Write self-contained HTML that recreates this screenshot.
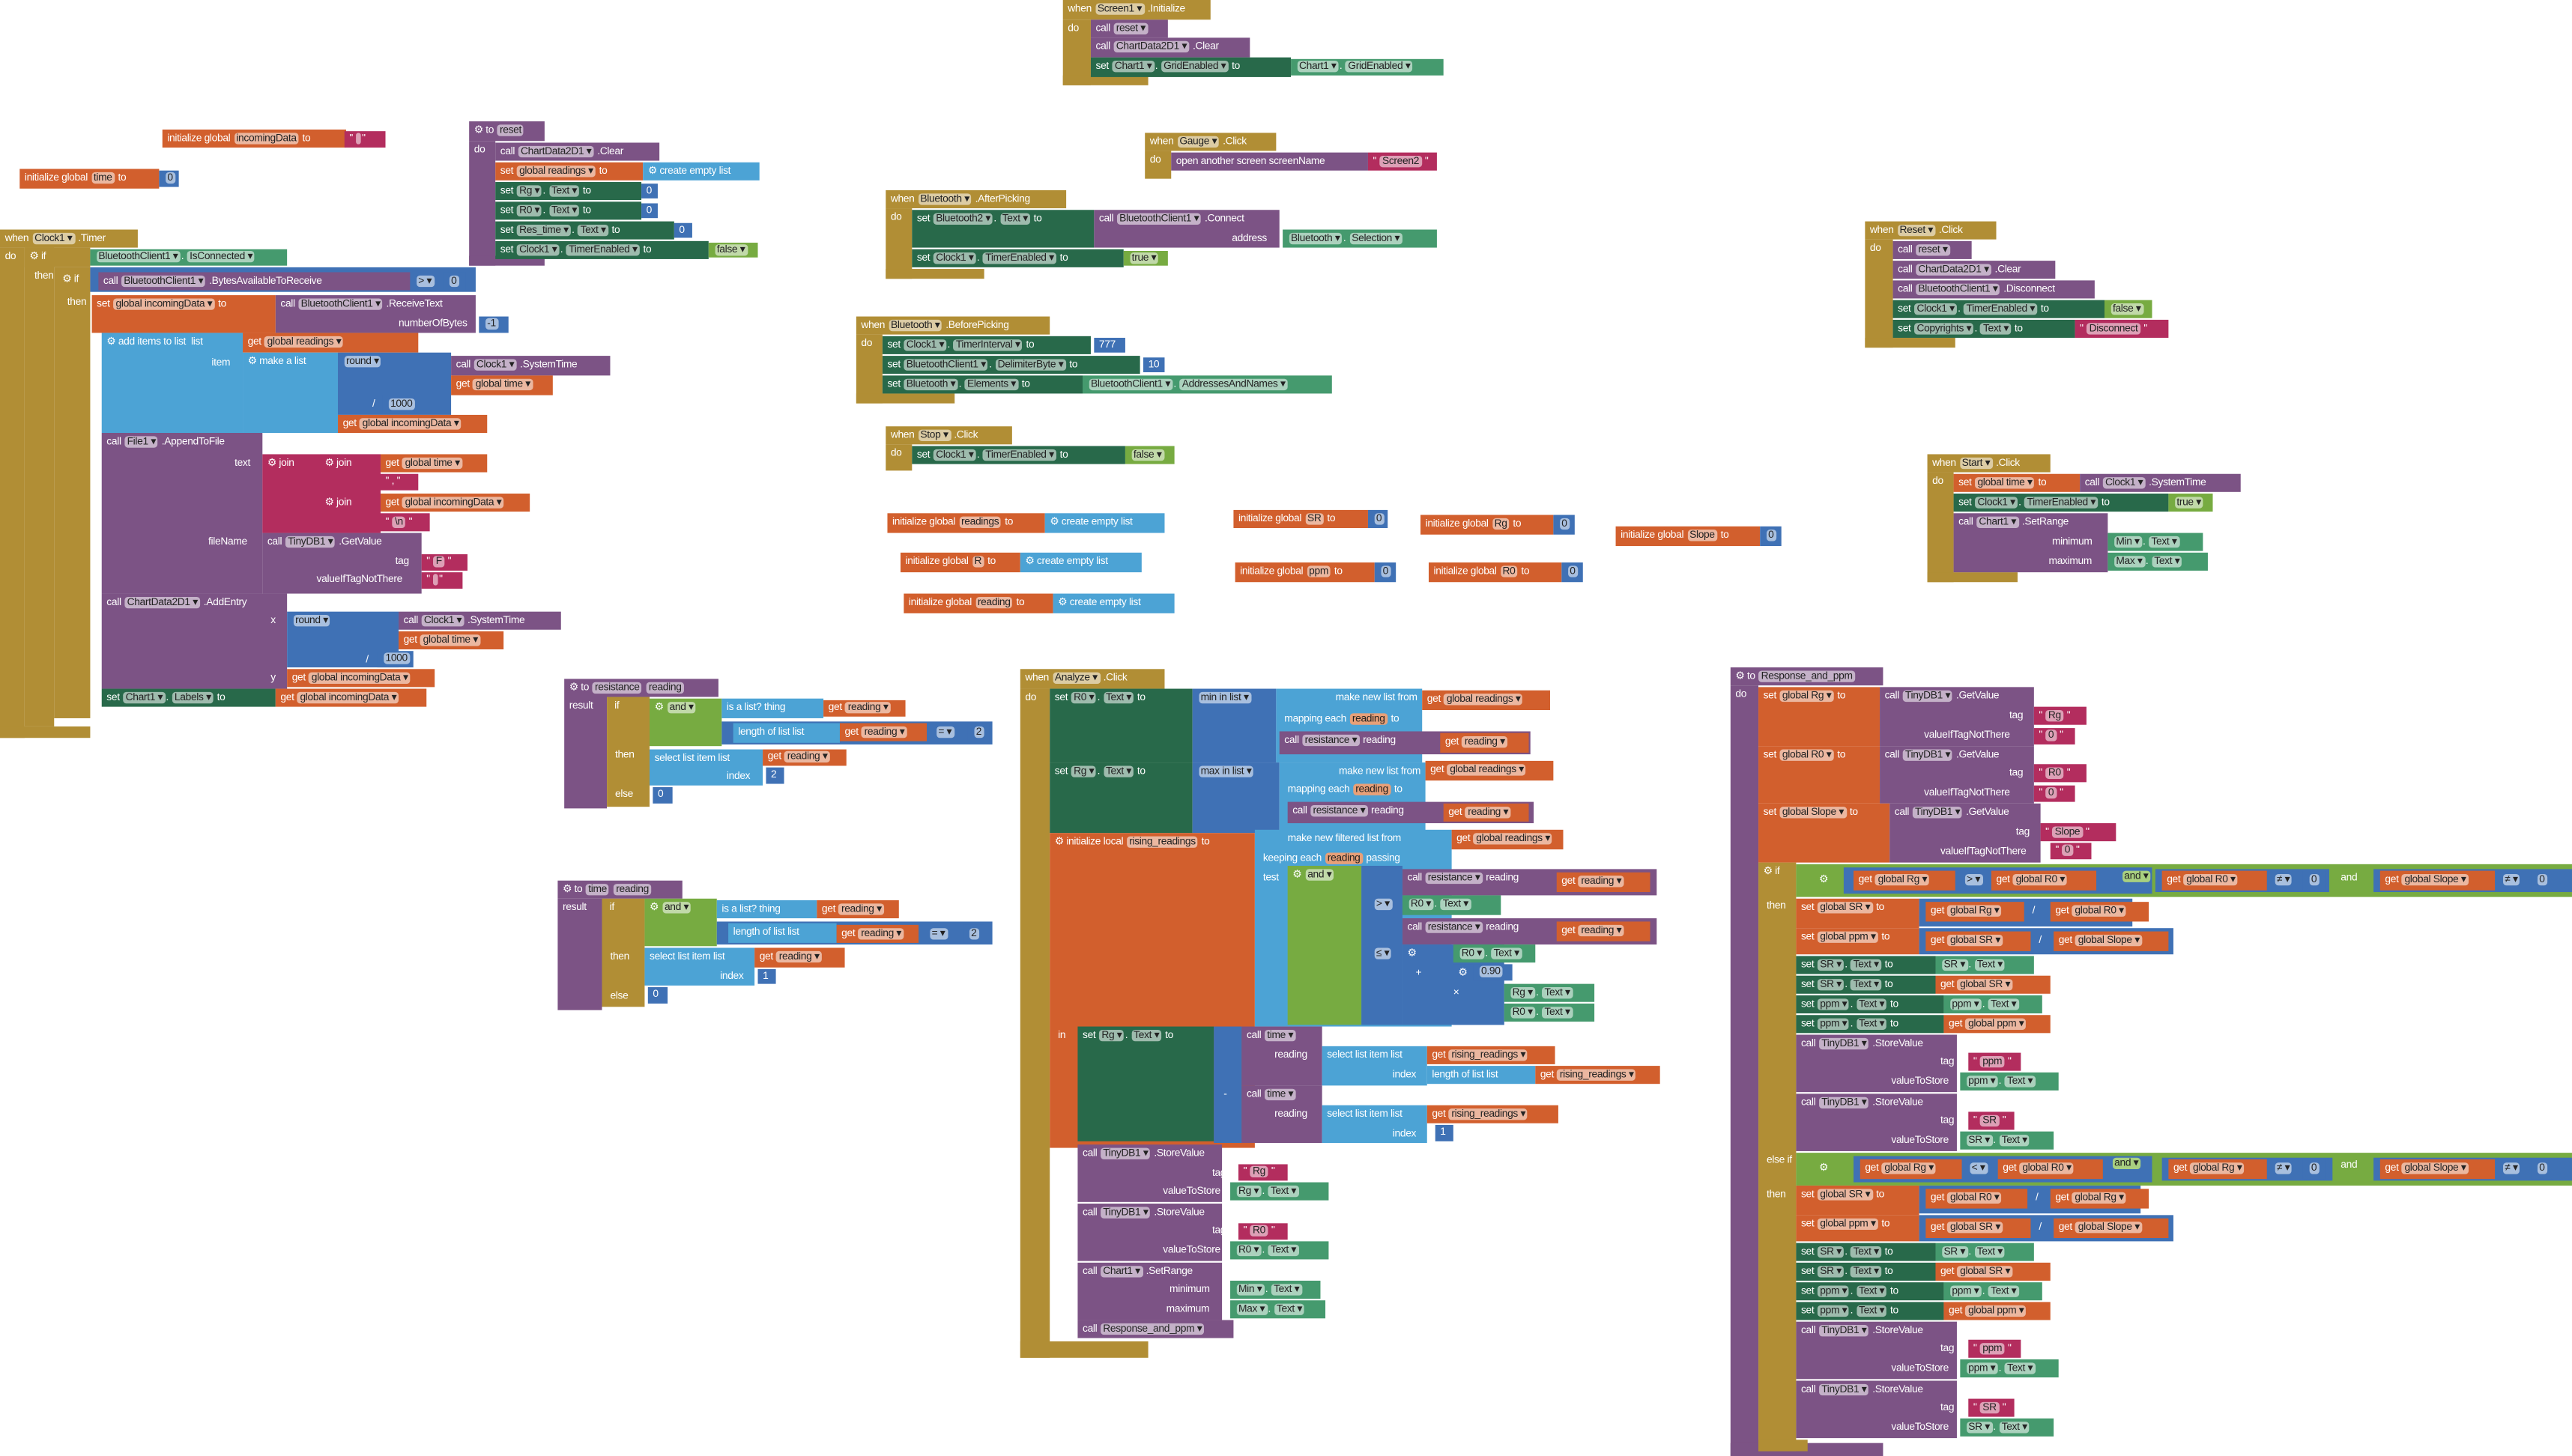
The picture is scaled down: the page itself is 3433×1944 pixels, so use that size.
<!DOCTYPE html>
<html><head><meta charset="utf-8"><style>
html,body{margin:0;padding:0;background:#fff;}
body{width:3433px;height:1944px;overflow:hidden;position:relative;}
#w{position:absolute;left:0;top:0;width:1568px;height:888px;transform:scale(2.1894);transform-origin:0 0;}
.r,.t{position:absolute;box-sizing:border-box;font:6.3px/11px "Liberation Sans Narrow","Liberation Sans",sans-serif;letter-spacing:-0.15px;color:#fff;padding-left:3px;white-space:nowrap;}
.t{background:none;}
.g{background:#B18E35}.pu{background:#7C5385}.dg{background:#28694A}.lg{background:#459A6E}
.o{background:#D25F2D}.lb{background:#4CA3D5}.bl{background:#3F71B5}.pk{background:#B32D5E}.lo{background:#77AB41}
.p{background:rgba(255,255,255,.55);color:#222;border-radius:2px;padding:0 1.5px;margin:0 0.5px}
</style></head><body><div id="w">

<!-- Screen1.Initialize -->
<div class="r g" style="left:648px;top:0;width:90px;height:12px">when <span class="p">Screen1 ▾</span> .Initialize</div>
<div class="r g" style="left:648px;top:12px;width:17px;height:40px">do</div>
<div class="r g" style="left:648px;top:46px;width:52px;height:6px"></div>
<div class="r pu" style="left:665px;top:12px;width:47px;height:11px">call <span class="p">reset ▾</span></div>
<div class="r pu" style="left:665px;top:23px;width:97px;height:12px">call <span class="p">ChartData2D1 ▾</span> .Clear</div>
<div class="r dg" style="left:665px;top:35px;width:122px;height:12px">set <span class="p">Chart1 ▾</span>. <span class="p">GridEnabled ▾</span> to</div>
<div class="r lg" style="left:787px;top:36px;width:93px;height:10px;line-height:10px"><span class="p">Chart1 ▾</span>. <span class="p">GridEnabled ▾</span></div>

<!-- globals left -->
<div class="r o" style="left:99px;top:79px;width:112px;height:11px">initialize global <span class="p">incomingData</span> to</div>
<div class="r pk" style="left:210px;top:80px;width:25px;height:10px;line-height:10px">" <span class="p"> </span> "</div>
<div class="r o" style="left:12px;top:103px;width:85px;height:12px">initialize global <span class="p">time</span> to</div>
<div class="r bl" style="left:97px;top:104px;width:12px;height:10px;line-height:10px"><span class="p">0</span></div>

<!-- to reset -->
<div class="r pu" style="left:286px;top:74px;width:46px;height:12px">⚙ to <span class="p">reset</span></div>
<div class="r pu" style="left:286px;top:86px;width:16px;height:76px">do</div>
<div class="r pu" style="left:286px;top:156px;width:46px;height:6px"></div>
<div class="r pu" style="left:302px;top:87px;width:100px;height:11px">call <span class="p">ChartData2D1 ▾</span> .Clear</div>
<div class="r o" style="left:302px;top:99px;width:90px;height:11px">set <span class="p">global readings ▾</span> to</div>
<div class="r lb" style="left:392px;top:99px;width:71px;height:11px">⚙ create empty list</div>
<div class="r dg" style="left:302px;top:111px;width:89px;height:11px">set <span class="p">Rg ▾</span>. <span class="p">Text ▾</span> to</div>
<div class="r bl" style="left:391px;top:112px;width:10px;height:9px;line-height:9px">0</div>
<div class="r dg" style="left:302px;top:123px;width:89px;height:11px">set <span class="p">R0 ▾</span>. <span class="p">Text ▾</span> to</div>
<div class="r bl" style="left:391px;top:124px;width:10px;height:9px;line-height:9px">0</div>
<div class="r dg" style="left:302px;top:135px;width:109px;height:11px">set <span class="p">Res_time ▾</span>. <span class="p">Text ▾</span> to</div>
<div class="r bl" style="left:411px;top:136px;width:11px;height:9px;line-height:9px">0</div>
<div class="r dg" style="left:302px;top:147px;width:130px;height:11px">set <span class="p">Clock1 ▾</span>. <span class="p">TimerEnabled ▾</span> to</div>
<div class="r lo" style="left:432px;top:148px;width:30px;height:9px;line-height:9px"><span class="p">false ▾</span></div>

<!-- Clock1.Timer -->
<div class="r g" style="left:0;top:140px;width:84px;height:11px">when <span class="p">Clock1 ▾</span> .Timer</div>
<div class="r g" style="left:0;top:151px;width:15px;height:299px">do</div>
<div class="r g" style="left:15px;top:151px;width:18px;height:292px"></div>
<div class="r g" style="left:33px;top:163px;width:22px;height:275px"></div>
<div class="r g" style="left:15px;top:151px;width:40px;height:12px">⚙ if</div>
<div class="t" style="left:18px;top:163px">then</div>
<div class="t" style="left:35px;top:165px">⚙ if</div>
<div class="t" style="left:38px;top:179px">then</div>
<div class="r g" style="left:0;top:443px;width:55px;height:7px"></div>
<div class="r lg" style="left:55px;top:152px;width:120px;height:10px;line-height:10px"><span class="p">BluetoothClient1 ▾</span>. <span class="p">IsConnected ▾</span></div>
<div class="r bl" style="left:55px;top:163px;width:235px;height:15px"></div>
<div class="r pu" style="left:60px;top:166px;width:190px;height:11px">call <span class="p">BluetoothClient1 ▾</span> .BytesAvailableToReceive</div>
<div class="t" style="left:250px;top:166px"><span class="p">&gt; ▾</span></div>
<div class="r bl" style="left:270px;top:166px;width:14px;height:11px"><span class="p">0</span></div>
<div class="r o" style="left:56px;top:180px;width:112px;height:23px">set <span class="p">global incomingData ▾</span> to</div>
<div class="r pu" style="left:168px;top:180px;width:122px;height:23px">call <span class="p">BluetoothClient1 ▾</span> .ReceiveText</div>
<div class="t" style="left:240px;top:192px">numberOfBytes</div>
<div class="r bl" style="left:292px;top:193px;width:18px;height:10px;line-height:10px"><span class="p">-1</span></div>
<div class="r lb" style="left:62px;top:203px;width:86px;height:61px">⚙ add items to list &nbsp;list</div>
<div class="t" style="left:126px;top:216px">item</div>
<div class="r o" style="left:148px;top:203px;width:107px;height:12px">get <span class="p">global readings ▾</span></div>
<div class="r lb" style="left:148px;top:215px;width:58px;height:49px">⚙ make a list</div>
<div class="r bl" style="left:206px;top:215px;width:69px;height:38px"><span class="p">round ▾</span></div>
<div class="r pu" style="left:275px;top:217px;width:97px;height:12px">call <span class="p">Clock1 ▾</span> .SystemTime</div>
<div class="r o" style="left:275px;top:229px;width:62px;height:12px">get <span class="p">global time ▾</span></div>
<div class="t" style="left:224px;top:241px">/</div>
<div class="r bl" style="left:233px;top:241px;width:20px;height:11px"><span class="p">1000</span></div>
<div class="r o" style="left:206px;top:253px;width:91px;height:11px">get <span class="p">global incomingData ▾</span></div>
<div class="r pu" style="left:62px;top:264px;width:98px;height:98px">call <span class="p">File1 ▾</span> .AppendToFile</div>
<div class="t" style="left:140px;top:277px">text</div>
<div class="t" style="left:124px;top:325px">fileName</div>
<div class="r pk" style="left:160px;top:277px;width:72px;height:48px">⚙ join</div>
<div class="r pk" style="left:195px;top:277px;width:37px;height:24px">⚙ join</div>
<div class="r pk" style="left:195px;top:301px;width:37px;height:24px">⚙ join</div>
<div class="r o" style="left:232px;top:277px;width:65px;height:11px">get <span class="p">global time ▾</span></div>
<div class="r pk" style="left:232px;top:289px;width:23px;height:10px;line-height:10px">" , "</div>
<div class="r o" style="left:232px;top:301px;width:91px;height:11px">get <span class="p">global incomingData ▾</span></div>
<div class="r pk" style="left:232px;top:313px;width:30px;height:11px">" <span class="p">\n</span> "</div>
<div class="r pu" style="left:160px;top:325px;width:97px;height:37px">call <span class="p">TinyDB1 ▾</span> .GetValue</div>
<div class="t" style="left:238px;top:337px">tag</div>
<div class="t" style="left:190px;top:348px">valueIfTagNotThere</div>
<div class="r pk" style="left:257px;top:338px;width:28px;height:10px;line-height:10px">" <span class="p">F</span> "</div>
<div class="r pk" style="left:257px;top:349px;width:25px;height:10px;line-height:10px">" <span class="p"> </span> "</div>
<div class="r pu" style="left:62px;top:362px;width:113px;height:58px">call <span class="p">ChartData2D1 ▾</span> .AddEntry</div>
<div class="t" style="left:162px;top:373px">x</div>
<div class="t" style="left:162px;top:408px">y</div>
<div class="r bl" style="left:175px;top:373px;width:68px;height:34px"><span class="p">round ▾</span></div>
<div class="r pu" style="left:243px;top:373px;width:99px;height:11px">call <span class="p">Clock1 ▾</span> .SystemTime</div>
<div class="r o" style="left:243px;top:385px;width:64px;height:11px">get <span class="p">global time ▾</span></div>
<div class="t" style="left:220px;top:397px">/</div>
<div class="r bl" style="left:230px;top:397px;width:22px;height:10px;line-height:10px"><span class="p">1000</span></div>
<div class="r o" style="left:175px;top:408px;width:90px;height:11px">get <span class="p">global incomingData ▾</span></div>
<div class="r dg" style="left:62px;top:420px;width:106px;height:11px">set <span class="p">Chart1 ▾</span>. <span class="p">Labels ▾</span> to</div>
<div class="r o" style="left:168px;top:420px;width:92px;height:11px">get <span class="p">global incomingData ▾</span></div>

<!-- resistance -->
<div class="r pu" style="left:344px;top:414px;width:94px;height:11px">⚙ to <span class="p">resistance</span> <span class="p">reading</span></div>
<div class="r pu" style="left:344px;top:425px;width:26px;height:68px">result</div>
<div class="r g" style="left:370px;top:425px;width:26px;height:67px">&nbsp;if</div>
<div class="t" style="left:372px;top:455px">then</div>
<div class="t" style="left:372px;top:479px">else</div>
<div class="r lo" style="left:396px;top:426px;width:44px;height:29px">⚙ <span class="p">and ▾</span></div>
<div class="r lb" style="left:440px;top:426px;width:62px;height:12px">is a list? thing</div>
<div class="r o" style="left:502px;top:427px;width:50px;height:10px;line-height:10px">get <span class="p">reading ▾</span></div>
<div class="r bl" style="left:440px;top:440px;width:165px;height:14px"></div>
<div class="r lb" style="left:447px;top:441px;width:65px;height:12px">length of list list</div>
<div class="r o" style="left:512px;top:441px;width:53px;height:11px">get <span class="p">reading ▾</span></div>
<div class="t" style="left:567px;top:441px"><span class="p">= ▾</span></div>
<div class="r bl" style="left:590px;top:441px;width:13px;height:11px"><span class="p">2</span></div>
<div class="r lb" style="left:396px;top:457px;width:69px;height:22px">select list item list</div>
<div class="t" style="left:440px;top:468px">index</div>
<div class="r o" style="left:465px;top:457px;width:51px;height:10px;line-height:10px">get <span class="p">reading ▾</span></div>
<div class="r bl" style="left:467px;top:468px;width:11px;height:10px;line-height:10px">2</div>
<div class="r bl" style="left:398px;top:480px;width:12px;height:10px;line-height:10px">0</div>

<!-- time -->
<div class="r pu" style="left:340px;top:537px;width:76px;height:11px">⚙ to <span class="p">time</span> <span class="p">reading</span></div>
<div class="r pu" style="left:340px;top:548px;width:27px;height:68px">result</div>
<div class="r g" style="left:367px;top:548px;width:26px;height:66px">&nbsp;if</div>
<div class="t" style="left:369px;top:578px">then</div>
<div class="t" style="left:369px;top:602px">else</div>
<div class="r lo" style="left:393px;top:548px;width:44px;height:29px">⚙ <span class="p">and ▾</span></div>
<div class="r lb" style="left:437px;top:549px;width:61px;height:11px">is a list? thing</div>
<div class="r o" style="left:498px;top:549px;width:50px;height:11px">get <span class="p">reading ▾</span></div>
<div class="r bl" style="left:437px;top:562px;width:168px;height:14px"></div>
<div class="r lb" style="left:444px;top:563px;width:66px;height:12px">length of list list</div>
<div class="r o" style="left:510px;top:564px;width:50px;height:11px">get <span class="p">reading ▾</span></div>
<div class="t" style="left:563px;top:564px"><span class="p">= ▾</span></div>
<div class="r bl" style="left:587px;top:564px;width:13px;height:11px"><span class="p">2</span></div>
<div class="r lb" style="left:393px;top:578px;width:67px;height:23px">select list item list</div>
<div class="t" style="left:436px;top:590px">index</div>
<div class="r o" style="left:460px;top:578px;width:55px;height:12px">get <span class="p">reading ▾</span></div>
<div class="r bl" style="left:462px;top:591px;width:11px;height:9px;line-height:9px">1</div>
<div class="r bl" style="left:395px;top:602px;width:12px;height:10px;line-height:10px">0</div>

<!-- Gauge.Click -->
<div class="r g" style="left:698px;top:81px;width:80px;height:11px">when <span class="p">Gauge ▾</span> .Click</div>
<div class="r g" style="left:698px;top:92px;width:16px;height:17px">do</div>
<div class="r pu" style="left:714px;top:93px;width:120px;height:11px">open another screen screenName</div>
<div class="r pk" style="left:834px;top:93px;width:42px;height:11px">" <span class="p">Screen2</span> "</div>

<!-- Bluetooth.AfterPicking -->
<div class="r g" style="left:540px;top:116px;width:110px;height:11px">when <span class="p">Bluetooth ▾</span> .AfterPicking</div>
<div class="r g" style="left:540px;top:127px;width:16px;height:43px">do</div>
<div class="r g" style="left:540px;top:164px;width:60px;height:6px"></div>
<div class="r dg" style="left:556px;top:128px;width:111px;height:23px">set <span class="p">Bluetooth2 ▾</span>. <span class="p">Text ▾</span> to</div>
<div class="r pu" style="left:667px;top:128px;width:113px;height:23px">call <span class="p">BluetoothClient1 ▾</span> .Connect</div>
<div class="t" style="left:748px;top:140px">address</div>
<div class="r lg" style="left:782px;top:140px;width:94px;height:11px"><span class="p">Bluetooth ▾</span>. <span class="p">Selection ▾</span></div>
<div class="r dg" style="left:556px;top:152px;width:129px;height:11px">set <span class="p">Clock1 ▾</span>. <span class="p">TimerEnabled ▾</span> to</div>
<div class="r lo" style="left:685px;top:153px;width:27px;height:9px;line-height:9px"><span class="p">true ▾</span></div>

<!-- Bluetooth.BeforePicking -->
<div class="r g" style="left:522px;top:193px;width:118px;height:11px">when <span class="p">Bluetooth ▾</span> .BeforePicking</div>
<div class="r g" style="left:522px;top:204px;width:16px;height:42px">do</div>
<div class="r g" style="left:522px;top:240px;width:60px;height:6px"></div>
<div class="r dg" style="left:538px;top:205px;width:127px;height:11px">set <span class="p">Clock1 ▾</span>. <span class="p">TimerInterval ▾</span> to</div>
<div class="r bl" style="left:667px;top:206px;width:19px;height:9px;line-height:9px">777</div>
<div class="r dg" style="left:538px;top:217px;width:157px;height:11px">set <span class="p">BluetoothClient1 ▾</span>. <span class="p">DelimiterByte ▾</span> to</div>
<div class="r bl" style="left:697px;top:218px;width:13px;height:9px;line-height:9px">10</div>
<div class="r dg" style="left:538px;top:229px;width:122px;height:11px">set <span class="p">Bluetooth ▾</span>. <span class="p">Elements ▾</span> to</div>
<div class="r lg" style="left:660px;top:229px;width:152px;height:11px"><span class="p">BluetoothClient1 ▾</span>. <span class="p">AddressesAndNames ▾</span></div>

<!-- Stop.Click -->
<div class="r g" style="left:540px;top:260px;width:77px;height:11px">when <span class="p">Stop ▾</span> .Click</div>
<div class="r g" style="left:540px;top:271px;width:16px;height:16px">do</div>
<div class="r dg" style="left:556px;top:272px;width:130px;height:11px">set <span class="p">Clock1 ▾</span>. <span class="p">TimerEnabled ▾</span> to</div>
<div class="r lo" style="left:686px;top:272px;width:30px;height:11px"><span class="p">false ▾</span></div>

<!-- init globals -->
<div class="r o" style="left:541px;top:313px;width:96px;height:12px">initialize global <span class="p">readings</span> to</div>
<div class="r lb" style="left:637px;top:313px;width:73px;height:12px">⚙ create empty list</div>
<div class="r o" style="left:549px;top:337px;width:73px;height:12px">initialize global <span class="p">R</span> to</div>
<div class="r lb" style="left:622px;top:337px;width:74px;height:12px">⚙ create empty list</div>
<div class="r o" style="left:551px;top:362px;width:91px;height:12px">initialize global <span class="p">reading</span> to</div>
<div class="r lb" style="left:642px;top:362px;width:74px;height:12px">⚙ create empty list</div>
<div class="r o" style="left:752px;top:311px;width:82px;height:11px">initialize global <span class="p">SR</span> to</div>
<div class="r bl" style="left:834px;top:311px;width:12px;height:11px"><span class="p">0</span></div>
<div class="r o" style="left:866px;top:314px;width:81px;height:12px">initialize global <span class="p">Rg</span> to</div>
<div class="r bl" style="left:947px;top:314px;width:13px;height:12px"><span class="p">0</span></div>
<div class="r o" style="left:753px;top:343px;width:85px;height:12px">initialize global <span class="p">ppm</span> to</div>
<div class="r bl" style="left:838px;top:343px;width:13px;height:12px"><span class="p">0</span></div>
<div class="r o" style="left:871px;top:343px;width:81px;height:12px">initialize global <span class="p">R0</span> to</div>
<div class="r bl" style="left:952px;top:343px;width:13px;height:12px"><span class="p">0</span></div>
<div class="r o" style="left:985px;top:321px;width:88px;height:12px">initialize global <span class="p">Slope</span> to</div>
<div class="r bl" style="left:1073px;top:321px;width:13px;height:12px"><span class="p">0</span></div>

<!-- Reset.Click -->
<div class="r g" style="left:1137px;top:135px;width:80px;height:11px">when <span class="p">Reset ▾</span> .Click</div>
<div class="r g" style="left:1137px;top:146px;width:17px;height:66px">do</div>
<div class="r g" style="left:1137px;top:206px;width:55px;height:6px"></div>
<div class="r pu" style="left:1154px;top:147px;width:48px;height:11px">call <span class="p">reset ▾</span></div>
<div class="r pu" style="left:1154px;top:159px;width:99px;height:11px">call <span class="p">ChartData2D1 ▾</span> .Clear</div>
<div class="r pu" style="left:1154px;top:171px;width:123px;height:11px">call <span class="p">BluetoothClient1 ▾</span> .Disconnect</div>
<div class="r dg" style="left:1154px;top:183px;width:129px;height:11px">set <span class="p">Clock1 ▾</span>. <span class="p">TimerEnabled ▾</span> to</div>
<div class="r lo" style="left:1283px;top:183px;width:29px;height:11px"><span class="p">false ▾</span></div>
<div class="r dg" style="left:1154px;top:195px;width:111px;height:11px">set <span class="p">Copyrights ▾</span>. <span class="p">Text ▾</span> to</div>
<div class="r pk" style="left:1265px;top:195px;width:57px;height:11px">" <span class="p">Disconnect</span> "</div>

<!-- Start.Click -->
<div class="r g" style="left:1175px;top:277px;width:75px;height:11px">when <span class="p">Start ▾</span> .Click</div>
<div class="r g" style="left:1175px;top:288px;width:16px;height:67px">do</div>
<div class="r g" style="left:1175px;top:349px;width:55px;height:6px"></div>
<div class="r o" style="left:1191px;top:289px;width:77px;height:11px">set <span class="p">global time ▾</span> to</div>
<div class="r pu" style="left:1268px;top:289px;width:98px;height:11px">call <span class="p">Clock1 ▾</span> .SystemTime</div>
<div class="r dg" style="left:1191px;top:301px;width:131px;height:11px">set <span class="p">Clock1 ▾</span>. <span class="p">TimerEnabled ▾</span> to</div>
<div class="r lo" style="left:1322px;top:301px;width:27px;height:11px"><span class="p">true ▾</span></div>
<div class="r pu" style="left:1191px;top:313px;width:94px;height:36px">call <span class="p">Chart1 ▾</span> .SetRange</div>
<div class="t" style="left:1248px;top:325px">minimum</div>
<div class="t" style="left:1246px;top:337px">maximum</div>
<div class="r lg" style="left:1285px;top:325px;width:58px;height:11px"><span class="p">Min ▾</span>. <span class="p">Text ▾</span></div>
<div class="r lg" style="left:1285px;top:337px;width:61px;height:11px"><span class="p">Max ▾</span>. <span class="p">Text ▾</span></div>

<!-- Analyze.Click -->
<div class="r g" style="left:622px;top:408px;width:88px;height:12px">when <span class="p">Analyze ▾</span> .Click</div>
<div class="r g" style="left:622px;top:420px;width:18px;height:408px">do</div>
<div class="r g" style="left:622px;top:818px;width:78px;height:10px"></div>
<div class="r dg" style="left:640px;top:420px;width:87px;height:45px">set <span class="p">R0 ▾</span>. <span class="p">Text ▾</span> to</div>
<div class="r bl" style="left:727px;top:420px;width:51px;height:45px"><span class="p">min in list ▾</span></div>
<div class="r lb" style="left:778px;top:420px;width:89px;height:45px;text-align:right;padding-right:3px">make new list from</div>
<div class="t" style="left:780px;top:433px">mapping each <span class="p" style="background:#E8A078">reading</span> to</div>
<div class="r o" style="left:867px;top:421px;width:78px;height:12px">get <span class="p">global readings ▾</span></div>
<div class="r pu" style="left:780px;top:446px;width:153px;height:14px">call <span class="p">resistance ▾</span> reading</div>
<div class="r o" style="left:878px;top:447px;width:54px;height:12px">get <span class="p">reading ▾</span></div>
<div class="r dg" style="left:640px;top:465px;width:87px;height:43px">set <span class="p">Rg ▾</span>. <span class="p">Text ▾</span> to</div>
<div class="r bl" style="left:727px;top:465px;width:53px;height:43px"><span class="p">max in list ▾</span></div>
<div class="r lb" style="left:780px;top:465px;width:89px;height:43px;text-align:right;padding-right:3px">make new list from</div>
<div class="t" style="left:782px;top:476px">mapping each <span class="p" style="background:#E8A078">reading</span> to</div>
<div class="r o" style="left:869px;top:464px;width:78px;height:12px">get <span class="p">global readings ▾</span></div>
<div class="r pu" style="left:785px;top:489px;width:150px;height:13px">call <span class="p">resistance ▾</span> reading</div>
<div class="r o" style="left:880px;top:490px;width:52px;height:11px">get <span class="p">reading ▾</span></div>
<div class="r o" style="left:640px;top:508px;width:125px;height:192px">⚙ initialize local <span class="p">rising_readings</span> to</div>
<div class="t" style="left:642px;top:626px">in</div>
<div class="r lb" style="left:765px;top:506px;width:120px;height:120px;padding-left:20px">make new filtered list from</div>
<div class="t" style="left:767px;top:518px">keeping each <span class="p" style="background:#E8A078">reading</span> passing</div>
<div class="t" style="left:767px;top:530px">test</div>
<div class="r o" style="left:885px;top:506px;width:68px;height:12px">get <span class="p">global readings ▾</span></div>
<div class="r lo" style="left:785px;top:528px;width:45px;height:97px">⚙ <span class="p">and ▾</span></div>
<div class="r bl" style="left:830px;top:528px;width:25px;height:97px"></div>
<div class="t" style="left:834px;top:546px"><span class="p">&gt; ▾</span></div>
<div class="t" style="left:834px;top:576px"><span class="p">≤ ▾</span></div>
<div class="r pu" style="left:855px;top:530px;width:155px;height:16px">call <span class="p">resistance ▾</span> reading</div>
<div class="r o" style="left:949px;top:532px;width:57px;height:12px">get <span class="p">reading ▾</span></div>
<div class="r lg" style="left:855px;top:546px;width:60px;height:12px"><span class="p">R0 ▾</span>. <span class="p">Text ▾</span></div>
<div class="r pu" style="left:855px;top:560px;width:155px;height:16px">call <span class="p">resistance ▾</span> reading</div>
<div class="r o" style="left:949px;top:562px;width:57px;height:12px">get <span class="p">reading ▾</span></div>
<div class="r bl" style="left:855px;top:576px;width:62px;height:49px">⚙</div>
<div class="t" style="left:860px;top:588px">+</div>
<div class="r lg" style="left:886px;top:576px;width:50px;height:11px"><span class="p">R0 ▾</span>. <span class="p">Text ▾</span></div>
<div class="r bl" style="left:886px;top:588px;width:31px;height:37px">⚙</div>
<div class="t" style="left:883px;top:600px">×</div>
<div class="r bl" style="left:898px;top:588px;width:24px;height:10px;line-height:10px"><span class="p">0.90</span></div>
<div class="r lg" style="left:917px;top:600px;width:55px;height:11px"><span class="p">Rg ▾</span>. <span class="p">Text ▾</span></div>
<div class="r lg" style="left:917px;top:612px;width:55px;height:11px"><span class="p">R0 ▾</span>. <span class="p">Text ▾</span></div>
<div class="r dg" style="left:657px;top:626px;width:83px;height:70px">set <span class="p">Rg ▾</span>. <span class="p">Text ▾</span> to</div>
<div class="r bl" style="left:740px;top:626px;width:17px;height:71px"></div>
<div class="t" style="left:743px;top:662px">-</div>
<div class="r pu" style="left:757px;top:626px;width:49px;height:36px">call <span class="p">time ▾</span></div>
<div class="t" style="left:774px;top:638px">reading</div>
<div class="r lb" style="left:806px;top:638px;width:64px;height:24px">select list item list</div>
<div class="t" style="left:846px;top:650px">index</div>
<div class="r o" style="left:870px;top:638px;width:78px;height:11px">get <span class="p">rising_readings ▾</span></div>
<div class="r lb" style="left:870px;top:650px;width:66px;height:11px">length of list list</div>
<div class="r o" style="left:936px;top:650px;width:76px;height:11px">get <span class="p">rising_readings ▾</span></div>
<div class="r pu" style="left:757px;top:662px;width:49px;height:35px">call <span class="p">time ▾</span></div>
<div class="t" style="left:774px;top:674px">reading</div>
<div class="r lb" style="left:806px;top:674px;width:64px;height:23px">select list item list</div>
<div class="t" style="left:846px;top:686px">index</div>
<div class="r o" style="left:870px;top:674px;width:80px;height:11px">get <span class="p">rising_readings ▾</span></div>
<div class="r bl" style="left:875px;top:686px;width:11px;height:10px;line-height:10px">1</div>
<div class="r pu" style="left:657px;top:698px;width:88px;height:35px">call <span class="p">TinyDB1 ▾</span> .StoreValue</div>
<div class="t" style="left:736px;top:710px">tag</div>
<div class="t" style="left:706px;top:721px">valueToStore</div>
<div class="r pk" style="left:755px;top:710px;width:30px;height:10px;line-height:10px">" <span class="p">Rg</span> "</div>
<div class="r lg" style="left:750px;top:721px;width:60px;height:11px"><span class="p">Rg ▾</span>. <span class="p">Text ▾</span></div>
<div class="r pu" style="left:657px;top:734px;width:88px;height:35px">call <span class="p">TinyDB1 ▾</span> .StoreValue</div>
<div class="t" style="left:736px;top:745px">tag</div>
<div class="t" style="left:706px;top:757px">valueToStore</div>
<div class="r pk" style="left:755px;top:746px;width:30px;height:10px;line-height:10px">" <span class="p">R0</span> "</div>
<div class="r lg" style="left:750px;top:757px;width:60px;height:11px"><span class="p">R0 ▾</span>. <span class="p">Text ▾</span></div>
<div class="r pu" style="left:657px;top:770px;width:88px;height:35px">call <span class="p">Chart1 ▾</span> .SetRange</div>
<div class="t" style="left:710px;top:781px">minimum</div>
<div class="t" style="left:708px;top:793px">maximum</div>
<div class="r lg" style="left:750px;top:781px;width:55px;height:11px"><span class="p">Min ▾</span>. <span class="p">Text ▾</span></div>
<div class="r lg" style="left:750px;top:793px;width:58px;height:11px"><span class="p">Max ▾</span>. <span class="p">Text ▾</span></div>
<div class="r pu" style="left:657px;top:805px;width:95px;height:11px">call <span class="p">Response_and_ppm ▾</span></div>

<!-- Response_and_ppm -->
<div class="r pu" style="left:1055px;top:407px;width:93px;height:11px">⚙ to <span class="p">Response_and_ppm</span></div>
<div class="r pu" style="left:1055px;top:418px;width:17px;height:470px">do</div>
<div class="r pu" style="left:1055px;top:880px;width:93px;height:8px"></div>
<div class="r o" style="left:1072px;top:419px;width:74px;height:36px">set <span class="p">global Rg ▾</span> to</div>
<div class="r pu" style="left:1146px;top:419px;width:94px;height:36px">call <span class="p">TinyDB1 ▾</span> .GetValue</div>
<div class="t" style="left:1222px;top:431px">tag</div>
<div class="t" style="left:1170px;top:443px">valueIfTagNotThere</div>
<div class="r pk" style="left:1240px;top:431px;width:32px;height:11px">" <span class="p">Rg</span> "</div>
<div class="r pk" style="left:1240px;top:444px;width:25px;height:10px;line-height:10px">" <span class="p">0</span> "</div>
<div class="r o" style="left:1072px;top:455px;width:74px;height:35px">set <span class="p">global R0 ▾</span> to</div>
<div class="r pu" style="left:1146px;top:455px;width:94px;height:35px">call <span class="p">TinyDB1 ▾</span> .GetValue</div>
<div class="t" style="left:1222px;top:466px">tag</div>
<div class="t" style="left:1170px;top:478px">valueIfTagNotThere</div>
<div class="r pk" style="left:1240px;top:466px;width:32px;height:11px">" <span class="p">R0</span> "</div>
<div class="r pk" style="left:1240px;top:479px;width:25px;height:10px;line-height:10px">" <span class="p">0</span> "</div>
<div class="r o" style="left:1072px;top:490px;width:80px;height:36px">set <span class="p">global Slope ▾</span> to</div>
<div class="r pu" style="left:1152px;top:490px;width:92px;height:36px">call <span class="p">TinyDB1 ▾</span> .GetValue</div>
<div class="t" style="left:1226px;top:502px">tag</div>
<div class="t" style="left:1180px;top:514px">valueIfTagNotThere</div>
<div class="r pk" style="left:1244px;top:502px;width:46px;height:11px">" <span class="p">Slope</span> "</div>
<div class="r pk" style="left:1250px;top:514px;width:25px;height:10px;line-height:10px">" <span class="p">0</span> "</div>
<div class="r g" style="left:1072px;top:526px;width:23px;height:359px">⚙ if</div>
<div class="t" style="left:1074px;top:547px">then</div>
<div class="t" style="left:1074px;top:702px">else if</div>
<div class="t" style="left:1074px;top:723px">then</div>
<!-- cond 1 -->
<div class="r lo" style="left:1095px;top:527px;width:473px;height:20px;padding-left:14px;line-height:20px">⚙</div>
<div class="r bl" style="left:1124px;top:529px;width:188px;height:16px"></div>
<div class="r o" style="left:1130px;top:531px;width:62px;height:12px">get <span class="p">global Rg ▾</span></div>
<div class="t" style="left:1194px;top:531px"><span class="p">&gt; ▾</span></div>
<div class="r o" style="left:1214px;top:531px;width:64px;height:12px">get <span class="p">global R0 ▾</span></div>
<div class="t" style="left:1290px;top:529px"><span class="p" style="background:#A8D080">and ▾</span></div>
<div class="r bl" style="left:1314px;top:530px;width:106px;height:14px"></div>
<div class="r o" style="left:1318px;top:531px;width:64px;height:12px">get <span class="p">global R0 ▾</span></div>
<div class="t" style="left:1383px;top:531px"><span class="p">≠ ▾</span></div>
<div class="r bl" style="left:1404px;top:531px;width:14px;height:12px"><span class="p">0</span></div>
<div class="t" style="left:1424px;top:530px">and</div>
<div class="r bl" style="left:1447px;top:530px;width:121px;height:14px"></div>
<div class="r o" style="left:1451px;top:531px;width:70px;height:12px">get <span class="p">global Slope ▾</span></div>
<div class="t" style="left:1522px;top:531px"><span class="p">≠ ▾</span></div>
<div class="r bl" style="left:1543px;top:531px;width:14px;height:12px"><span class="p">0</span></div>
<!-- then 1 -->
<div class="r o" style="left:1095px;top:548px;width:75px;height:18px">set <span class="p">global SR ▾</span> to</div>
<div class="r bl" style="left:1170px;top:548px;width:130px;height:17px"></div>
<div class="r o" style="left:1174px;top:550px;width:60px;height:12px">get <span class="p">global Rg ▾</span></div>
<div class="t" style="left:1236px;top:550px">/</div>
<div class="r o" style="left:1250px;top:550px;width:60px;height:12px">get <span class="p">global R0 ▾</span></div>
<div class="r o" style="left:1095px;top:566px;width:75px;height:16px">set <span class="p">global ppm ▾</span> to</div>
<div class="r bl" style="left:1170px;top:566px;width:155px;height:16px"></div>
<div class="r o" style="left:1174px;top:568px;width:64px;height:12px">get <span class="p">global SR ▾</span></div>
<div class="t" style="left:1240px;top:568px">/</div>
<div class="r o" style="left:1252px;top:568px;width:70px;height:12px">get <span class="p">global Slope ▾</span></div>
<div class="r dg" style="left:1095px;top:583px;width:85px;height:11px">set <span class="p">SR ▾</span>. <span class="p">Text ▾</span> to</div>
<div class="r lg" style="left:1180px;top:583px;width:60px;height:11px"><span class="p">SR ▾</span>. <span class="p">Text ▾</span></div>
<div class="r dg" style="left:1095px;top:595px;width:85px;height:11px">set <span class="p">SR ▾</span>. <span class="p">Text ▾</span> to</div>
<div class="r o" style="left:1180px;top:595px;width:70px;height:11px">get <span class="p">global SR ▾</span></div>
<div class="r dg" style="left:1095px;top:607px;width:90px;height:11px">set <span class="p">ppm ▾</span>. <span class="p">Text ▾</span> to</div>
<div class="r lg" style="left:1185px;top:607px;width:60px;height:11px"><span class="p">ppm ▾</span>. <span class="p">Text ▾</span></div>
<div class="r dg" style="left:1095px;top:619px;width:90px;height:11px">set <span class="p">ppm ▾</span>. <span class="p">Text ▾</span> to</div>
<div class="r o" style="left:1185px;top:619px;width:65px;height:11px">get <span class="p">global ppm ▾</span></div>
<div class="r pu" style="left:1095px;top:631px;width:98px;height:35px">call <span class="p">TinyDB1 ▾</span> .StoreValue</div>
<div class="t" style="left:1180px;top:642px">tag</div>
<div class="t" style="left:1150px;top:654px">valueToStore</div>
<div class="r pk" style="left:1200px;top:642px;width:32px;height:11px">" <span class="p">ppm</span> "</div>
<div class="r lg" style="left:1195px;top:654px;width:60px;height:11px"><span class="p">ppm ▾</span>. <span class="p">Text ▾</span></div>
<div class="r pu" style="left:1095px;top:667px;width:98px;height:35px">call <span class="p">TinyDB1 ▾</span> .StoreValue</div>
<div class="t" style="left:1180px;top:678px">tag</div>
<div class="t" style="left:1150px;top:690px">valueToStore</div>
<div class="r pk" style="left:1200px;top:678px;width:28px;height:11px">" <span class="p">SR</span> "</div>
<div class="r lg" style="left:1195px;top:690px;width:57px;height:11px"><span class="p">SR ▾</span>. <span class="p">Text ▾</span></div>
<!-- cond 2 -->
<div class="r lo" style="left:1095px;top:703px;width:473px;height:20px;padding-left:14px;line-height:20px">⚙</div>
<div class="r bl" style="left:1130px;top:705px;width:182px;height:16px"></div>
<div class="r o" style="left:1134px;top:707px;width:62px;height:12px">get <span class="p">global Rg ▾</span></div>
<div class="t" style="left:1197px;top:707px"><span class="p">&lt; ▾</span></div>
<div class="r o" style="left:1218px;top:707px;width:64px;height:12px">get <span class="p">global R0 ▾</span></div>
<div class="t" style="left:1284px;top:704px"><span class="p" style="background:#A8D080">and ▾</span></div>
<div class="r bl" style="left:1318px;top:706px;width:104px;height:14px"></div>
<div class="r o" style="left:1322px;top:707px;width:60px;height:12px">get <span class="p">global Rg ▾</span></div>
<div class="t" style="left:1383px;top:707px"><span class="p">≠ ▾</span></div>
<div class="r bl" style="left:1404px;top:707px;width:14px;height:12px"><span class="p">0</span></div>
<div class="t" style="left:1424px;top:705px">and</div>
<div class="r bl" style="left:1447px;top:706px;width:121px;height:14px"></div>
<div class="r o" style="left:1451px;top:707px;width:70px;height:12px">get <span class="p">global Slope ▾</span></div>
<div class="t" style="left:1522px;top:707px"><span class="p">≠ ▾</span></div>
<div class="r bl" style="left:1543px;top:707px;width:14px;height:12px"><span class="p">0</span></div>
<!-- then 2 -->
<div class="r o" style="left:1095px;top:723px;width:75px;height:18px">set <span class="p">global SR ▾</span> to</div>
<div class="r bl" style="left:1170px;top:723px;width:135px;height:17px"></div>
<div class="r o" style="left:1174px;top:725px;width:62px;height:12px">get <span class="p">global R0 ▾</span></div>
<div class="t" style="left:1238px;top:725px">/</div>
<div class="r o" style="left:1250px;top:725px;width:60px;height:12px">get <span class="p">global Rg ▾</span></div>
<div class="r o" style="left:1095px;top:741px;width:75px;height:16px">set <span class="p">global ppm ▾</span> to</div>
<div class="r bl" style="left:1170px;top:741px;width:155px;height:16px"></div>
<div class="r o" style="left:1174px;top:743px;width:64px;height:12px">get <span class="p">global SR ▾</span></div>
<div class="t" style="left:1240px;top:743px">/</div>
<div class="r o" style="left:1252px;top:743px;width:70px;height:12px">get <span class="p">global Slope ▾</span></div>
<div class="r dg" style="left:1095px;top:758px;width:85px;height:11px">set <span class="p">SR ▾</span>. <span class="p">Text ▾</span> to</div>
<div class="r lg" style="left:1180px;top:758px;width:60px;height:11px"><span class="p">SR ▾</span>. <span class="p">Text ▾</span></div>
<div class="r dg" style="left:1095px;top:770px;width:85px;height:11px">set <span class="p">SR ▾</span>. <span class="p">Text ▾</span> to</div>
<div class="r o" style="left:1180px;top:770px;width:70px;height:11px">get <span class="p">global SR ▾</span></div>
<div class="r dg" style="left:1095px;top:782px;width:90px;height:11px">set <span class="p">ppm ▾</span>. <span class="p">Text ▾</span> to</div>
<div class="r lg" style="left:1185px;top:782px;width:60px;height:11px"><span class="p">ppm ▾</span>. <span class="p">Text ▾</span></div>
<div class="r dg" style="left:1095px;top:794px;width:90px;height:11px">set <span class="p">ppm ▾</span>. <span class="p">Text ▾</span> to</div>
<div class="r o" style="left:1185px;top:794px;width:65px;height:11px">get <span class="p">global ppm ▾</span></div>
<div class="r pu" style="left:1095px;top:806px;width:98px;height:35px">call <span class="p">TinyDB1 ▾</span> .StoreValue</div>
<div class="t" style="left:1180px;top:817px">tag</div>
<div class="t" style="left:1150px;top:829px">valueToStore</div>
<div class="r pk" style="left:1200px;top:817px;width:32px;height:11px">" <span class="p">ppm</span> "</div>
<div class="r lg" style="left:1195px;top:829px;width:60px;height:11px"><span class="p">ppm ▾</span>. <span class="p">Text ▾</span></div>
<div class="r pu" style="left:1095px;top:842px;width:98px;height:35px">call <span class="p">TinyDB1 ▾</span> .StoreValue</div>
<div class="t" style="left:1180px;top:853px">tag</div>
<div class="t" style="left:1150px;top:865px">valueToStore</div>
<div class="r pk" style="left:1200px;top:853px;width:28px;height:11px">" <span class="p">SR</span> "</div>
<div class="r lg" style="left:1195px;top:865px;width:57px;height:11px"><span class="p">SR ▾</span>. <span class="p">Text ▾</span></div>
<div class="r g" style="left:1072px;top:878px;width:30px;height:7px"></div>

</div></body></html>
